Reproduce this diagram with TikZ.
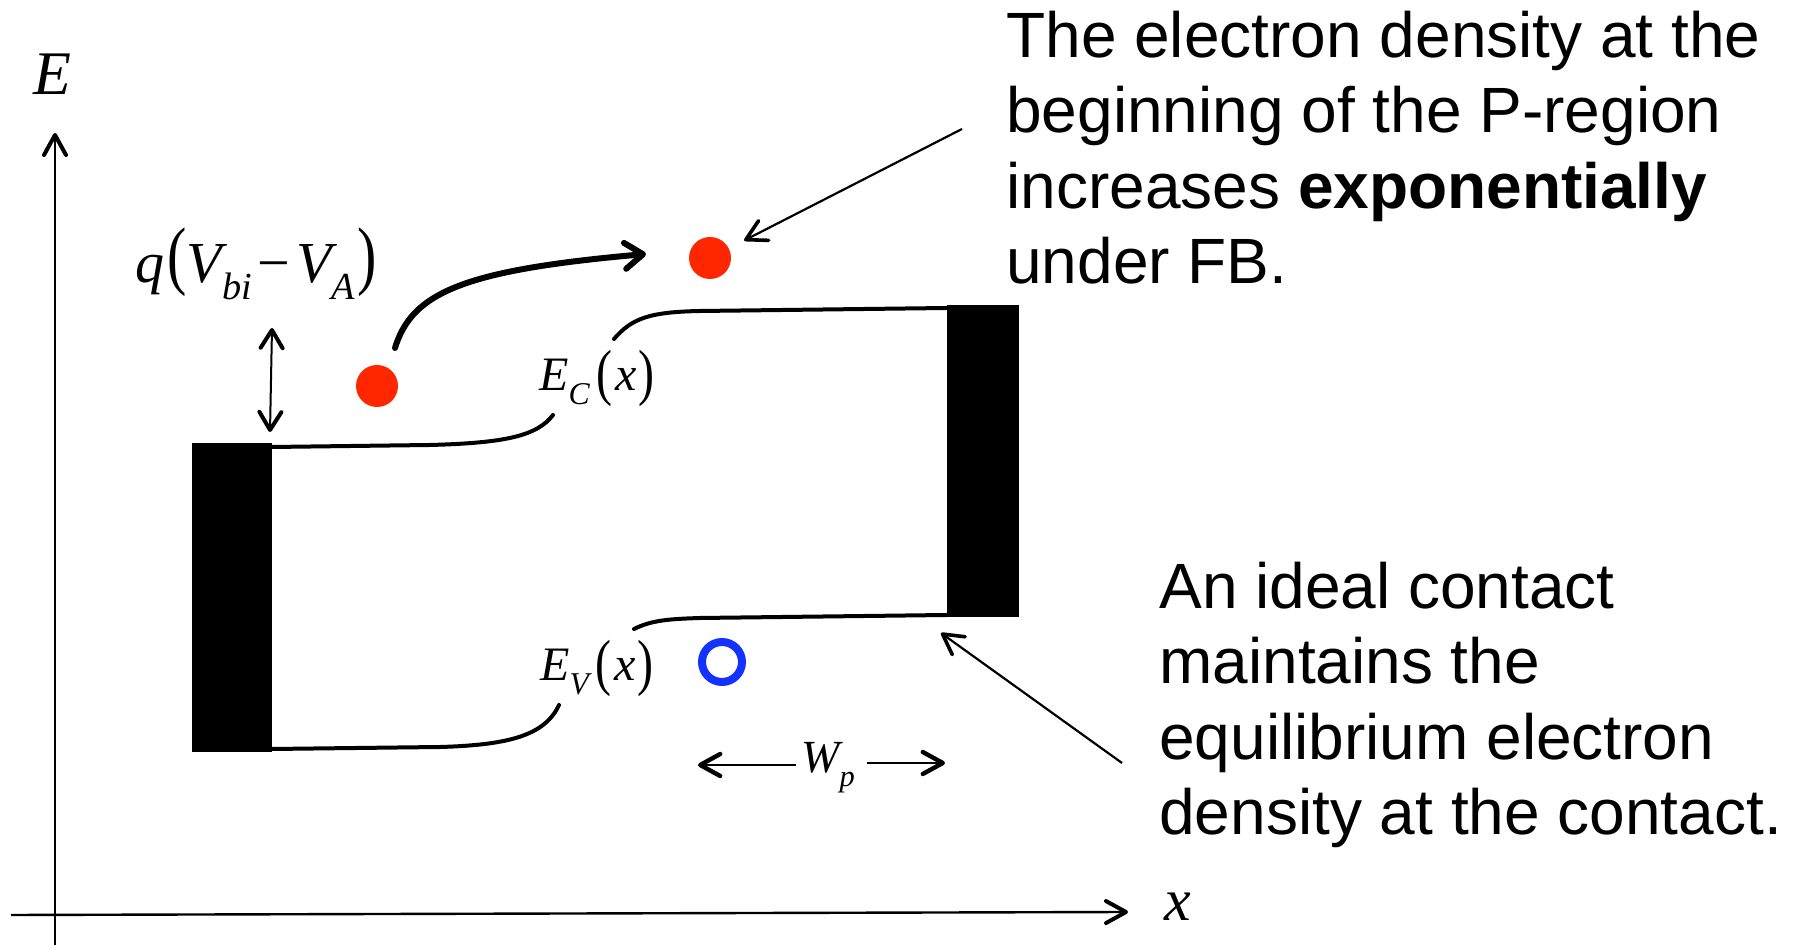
\documentclass[tikz,border=0pt]{standalone}
\usepackage{fontspec}
\setmainfont{Liberation Sans}
\newfontfamily\tms{Liberation Serif}
\usetikzlibrary{arrows.meta}
\definecolor{ered}{RGB}{255,38,0}
\definecolor{hblue}{RGB}{20,50,255}
% tall upright parenthesis: #1 vertical scale, #2 raise, #3 glyph
\newcommand{\tp}[3]{\raisebox{#2}{\scalebox{1}[#1]{\upshape #3}}}
\newcommand{\sbs}[1]{\raisebox{-0.3em}{\scalebox{0.66}{#1}}}
\begin{document}
\begin{tikzpicture}[x=0.5pt,y=-0.5pt,
  band/.style={line width=2pt, line cap=round},
  barb/.style={-{Straight Barb[length=10pt,width=11pt,line width=#1,round]}},
  dbarb/.style={{Straight Barb[length=9pt,width=11pt,line width=#1,round]}-{Straight Barb[length=9pt,width=11pt,line width=#1,round]}},
  axisline/.style={line width=1.2pt, barb=2pt},
  lbl/.style={inner sep=0, font=\tms\itshape},
  txt/.style={inner sep=0, anchor=base west, font=\fontsize{32}{38}\selectfont},
  contact/.style={fill=black, inner sep=0, draw=none},
  edot/.style={circle, fill=ered, inner sep=0, minimum size=21pt},
  hole/.style={circle, draw=hblue, line width=4pt, inner sep=0, minimum size=20pt},
  ann/.style={line width=1.1pt, barb=1.8pt},
]
\useasboundingbox (0,0) rectangle (1796,945);
\fill[white] (0,0) rectangle (1796,945);

% axes
\coordinate (yb) at (55,945);
\coordinate (yt) at (55,133);
\coordinate (xl) at (11,915);
\coordinate (xr) at (1128,912);
\draw[axisline] (yb) -- (yt);
\draw[axisline] (xl) -- (xr);
\node[lbl, font=\tms\itshape\fontsize{31}{36}\selectfont] (Elab) at (52,74) {E};
\node[lbl, font=\tms\itshape\fontsize{30}{36}\selectfont] (xlab) at (1178,907) {x};

% contacts
\node[contact, minimum width=40pt, minimum height=154.5pt] (lc) at (232,597.5) {};
\node[contact, minimum width=36pt, minimum height=156pt] (rc) at (983,461) {};

% bands
\draw[band] (272,447) -- (430,445) .. controls (505,443) and (537,436) .. (553,415);
\draw[band] (614,339) .. controls (632,318) and (650,312) .. (700,311) -- (947,308);
\draw[band] (272,749) -- (440,747) .. controls (510,745) and (545,735) .. (559,705);
\draw[band] (634,629) .. controls (652,620) and (670,619) .. (700,618) -- (947,615);

% band labels
\node[lbl, font=\tms\itshape\fontsize{24}{30}\selectfont] (Ec) at (597,378) {E\sbs{C}\hspace{0.14em}\tp{1.3}{-0.06em}{(}\hspace{0.06em}x\hspace{0.04em}\tp{1.3}{-0.06em}{)}};
\node[lbl, font=\tms\itshape\fontsize{24}{30}\selectfont] (Ev) at (597,668) {E\sbs{V}\hspace{0.14em}\tp{1.3}{-0.06em}{(}\hspace{0.06em}x\hspace{0.04em}\tp{1.3}{-0.06em}{)}};

% barrier label and arrow
\node[lbl, font=\tms\itshape\fontsize{29}{34}\selectfont] (qv) at (256,264) {q\hspace{0.06em}\tp{1.31}{0.03em}{(}V\sbs{bi}\hspace{0.1em}{\upshape −}\hspace{0.1em}V\sbs{A}\hspace{0.04em}\tp{1.31}{0.03em}{)}};
\coordinate (dt) at (272,328);
\coordinate (db) at (270,432);
\draw[line width=1pt, dbarb=2pt] (dt) -- (db);

% carriers
\node[edot] (e1) at (377,386) {};
\node[edot] (e2) at (710,258) {};
\node[hole] (h1) at (722,662) {};

% injection arrow
\coordinate (js) at (395,348);
\coordinate (je) at (646,254);
\draw[line width=3pt, line cap=round, -{Straight Barb[length=9pt,width=13pt,line width=3pt,round]}] (js) .. controls (412,292) and (465,270) .. (je);

% Wp
\node[lbl, font=\tms\itshape\fontsize{23}{28}\selectfont] (wp) at (828,768) {W\sbs{p}};
\coordinate (wl) at (698,765);
\coordinate (wr) at (945,763);
\draw[line width=1.3pt, barb=2.2pt] (796,765) -- (wl);
\draw[line width=1.3pt, barb=2.2pt] (867,763) -- (wr);

% annotation texts
\node[txt] (t1) at (1006,58) {The electron density at the};
\node[txt] (t2) at (1006,133) {beginning of the P-region};
\node[txt] (t3) at (1006,209) {increases \textbf{exponentially}};
\node[txt] (t4) at (1006,284) {under FB.};

\node[txt] (b1) at (1159,609) {An ideal contact};
\node[txt] (b2) at (1159,684) {maintains the};
\node[txt] (b3) at (1159,760) {equilibrium electron};
\node[txt] (b4) at (1159,835) {density at the contact.};

% annotation arrows
\coordinate (a1) at (962,129);
\draw[ann, shorten >=8.5pt] (a1) -- (e2);
\coordinate (a2) at (1122,763);
\coordinate (a2t) at (941,633);
\draw[ann] (a2) -- (a2t);
\end{tikzpicture}
\end{document}
